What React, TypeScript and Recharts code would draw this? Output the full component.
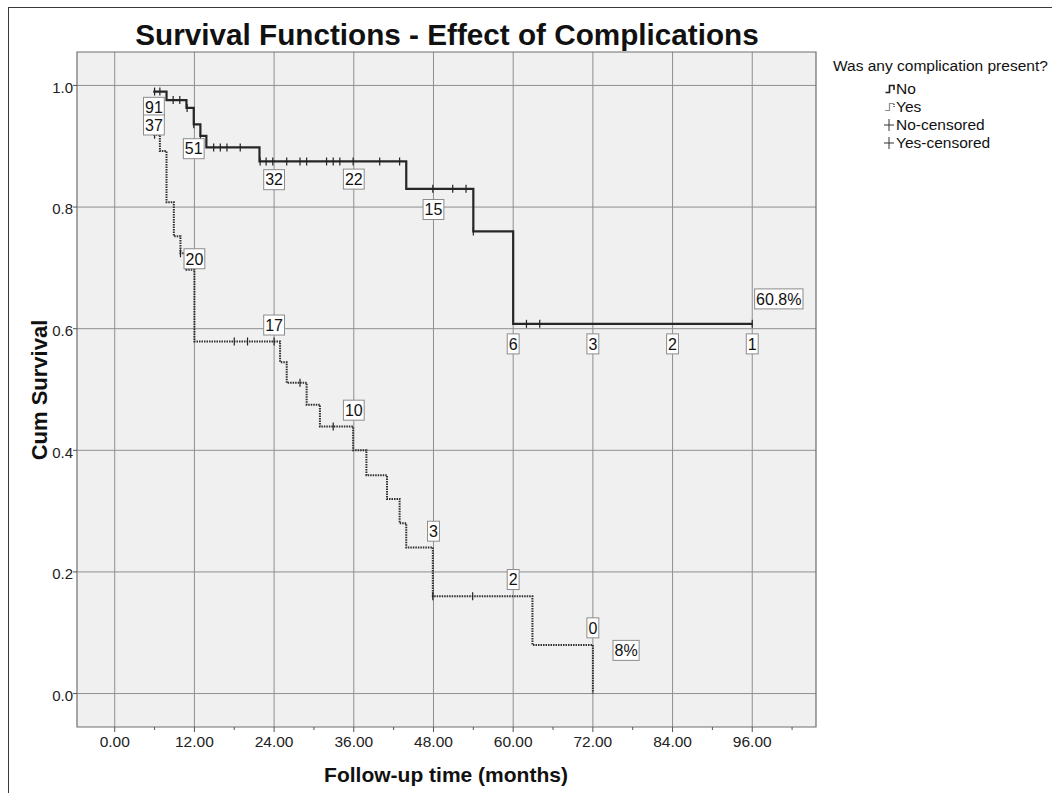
import React from 'react';
import { ComposedChart, Line, Scatter, XAxis, YAxis, CartesianGrid, ReferenceArea } from 'recharts';

// ---------- data ----------
const xTicks = [0, 6, 12, 18, 24, 30, 36, 42, 48, 54, 60, 66, 72, 78, 84, 90, 96, 102];
const yTicks = [0, 0.2, 0.4, 0.6, 0.8, 1.0];

// "No" complication survival curve (step after)
const noTimes = [5.8, 7.8, 10.8, 11.9, 12.9, 13.8, 21.8, 43.9, 54.0, 60.0, 96];
const noSurv = [0.99, 0.976, 0.963, 0.936, 0.917, 0.898, 0.875, 0.83, 0.76, 0.608, 0.608];

// "Yes" complication survival curve (step after)
const yesTimes = [5.8, 6.8, 7.8, 8.9, 9.9, 10.8, 12.0, 24.9, 25.9, 28.9, 30.9, 35.9, 37.9, 41.0, 42.9, 43.9, 47.9, 62.9, 72.0];
const yesSurv = [0.919, 0.892, 0.808, 0.752, 0.724, 0.697, 0.579, 0.545, 0.511, 0.475, 0.439, 0.4, 0.359, 0.32, 0.28, 0.24, 0.16, 0.08, 0.0];

// censored observations
const noCensorT = [6.0, 6.8, 8.8, 9.8, 10.9, 11.9, 12.9, 14.9, 15.9, 16.9, 18.9, 21.9, 22.8, 23.8, 25.9, 27.9, 28.9, 31.9, 32.9, 33.9, 35.9, 39.9, 42.9, 47.9, 50.9, 52.9, 54.0, 62.0, 64.0, 96];
const noCensorS = [0.99, 0.99, 0.976, 0.976, 0.963, 0.936, 0.917, 0.898, 0.898, 0.898, 0.898, 0.875, 0.875, 0.875, 0.875, 0.875, 0.875, 0.875, 0.875, 0.875, 0.875, 0.875, 0.875, 0.83, 0.83, 0.83, 0.76, 0.608, 0.608, 0.608];
const yesCensorT = [6.0, 9.9, 18.0, 20.0, 24.0, 27.9, 32.9, 47.9, 53.9];
const yesCensorS = [0.919, 0.724, 0.579, 0.579, 0.579, 0.511, 0.439, 0.16, 0.16];

// numbers at risk labels
const noRiskT = [5.9, 11.9, 24, 36, 48, 60, 72, 84, 96];
const noRiskY = [0.964, 0.896, 0.845, 0.846, 0.796, 0.575, 0.575, 0.575, 0.575];
const noRiskN = ['91', '51', '32', '22', '15', '6', '3', '2', '1'];
const yesRiskT = [5.9, 12, 24, 36, 48, 60, 72];
const yesRiskY = [0.935, 0.715, 0.606, 0.466, 0.267, 0.1875, 0.108];
const yesRiskN = ['37', '20', '17', '10', '3', '2', '0'];

// final survival percentage labels
const pctT = [100.0, 77.0];
const pctY = [0.649, 0.071];
const pctN = ['60.8%', '8%'];

// ---------- derived tables ----------
const noData = noTimes.map((t, i) => ({ x: t, y: noSurv[i] }));
const yesData = yesTimes.map((t, i) => ({ x: t, y: yesSurv[i] }));
const noCensor = noCensorT.map((t, i) => ({ x: t, y: noCensorS[i] }));
const yesCensor = yesCensorT.map((t, i) => ({ x: t, y: yesCensorS[i] }));
const riskLabels = [
  ...noRiskT.map((t, i) => ({ x: t, y: noRiskY[i], label: noRiskN[i] })),
  ...yesRiskT.map((t, i) => ({ x: t, y: yesRiskY[i], label: yesRiskN[i] })),
];
const pctLabels = pctT.map((t, i) => ({ x: t, y: pctY[i], label: pctN[i] }));

const FONT = "Arial, 'Liberation Sans', Helvetica, sans-serif";
const X_MIN = -5.68;
const X_MAX = 105.6;
const Y_MIN = -0.055;
const Y_MAX = 1.055;

const charW = (c: string) => (c === '.' ? 0.278 : c === '%' ? 0.889 : 0.556);

const LabelBox = (props: any) => {
  const { cx, cy, payload } = props;
  if (cx == null || cy == null) return null;
  const fs = 16;
  const w = payload.label.split('').reduce((s: number, c: string) => s + charW(c), 0) * fs + 3;
  const h = 20;
  return (
    <g>
      <rect x={cx - w / 2} y={cy - h / 2} width={w} height={h} fill="#ffffff" stroke="#8c8c8c" strokeWidth={1} />
      <text x={cx} y={cy + fs * 0.36} textAnchor="middle" fontSize={fs} fontFamily={FONT} fill="#111">
        {payload.label}
      </text>
    </g>
  );
};

const CensorMark = (props: any) => {
  const { cx, cy } = props;
  if (cx == null || cy == null) return null;
  return <line x1={cx} y1={cy - 4} x2={cx} y2={cy + 4} stroke="#222" strokeWidth={1.2} />;
};

const XTick = (props: any) => {
  const { x, y, payload } = props;
  const v = payload.value;
  const major = v % 12 === 0;
  return (
    <g>
      <line x1={x} y1={y} x2={x} y2={y + (major ? 5 : 3)} stroke="#555" strokeWidth={1} />
      {major && (
        <text x={x} y={y + 20} textAnchor="middle" fontSize={15.5} fontFamily={FONT} fill="#222">
          {v.toFixed(2)}
        </text>
      )}
    </g>
  );
};

const StepIcon = ({ dotted }: { dotted?: boolean }) => (
  <svg width={11} height={12} style={{ position: 'absolute', left: -2, top: 2 }}>
    <path d="M0.5 9.5 H4.5 V2.5 H9 V7" fill="none" stroke="#222" strokeWidth={dotted ? 1.2 : 1.6} strokeDasharray={dotted ? '1 1' : undefined} />
  </svg>
);
const PlusIcon = () => (
  <svg width={10} height={14} style={{ position: 'absolute', left: -3, top: 1 }}>
    <line x1={5} y1={1} x2={5} y2={13} stroke="#333" strokeWidth={1} />
    <line x1={0} y1={7} x2={10} y2={7} stroke="#333" strokeWidth={1} />
  </svg>
);

const legendItems = ['No', 'Yes', 'No-censored', 'Yes-censored'];

export default function App() {
  return (
    <div style={{ position: 'absolute', left: 0, top: 0, width: 1052, height: 793, overflow: 'hidden', background: '#fff', fontFamily: FONT }}>
      {/* outer frame */}
      <div style={{ position: 'absolute', left: 8, top: 7, width: 1100, height: 900, border: '1.5px solid #3a3a3a' }} />
      <div style={{ position: 'absolute', left: 0, top: 0 }}>
        <ComposedChart width={1052} height={793} margin={{ top: 52, right: 236, bottom: 36, left: 17 }}>
          <CartesianGrid
            stroke="#8f8f8f"
            strokeWidth={1}
            fill="#f0f0f0"
            fillOpacity={1}
            horizontalValues={yTicks}
            verticalValues={[0, 12, 24, 36, 48, 60, 72, 84, 96]}
          />
          <XAxis
            type="number"
            dataKey="x"
            domain={[X_MIN, X_MAX]}
            allowDataOverflow
            ticks={xTicks}
            interval={0}
            tick={<XTick />}
            tickSize={0}
            tickMargin={0}
            tickLine={false}
            axisLine={false}
            height={30}
          />
          <YAxis
            type="number"
            dataKey="y"
            domain={[Y_MIN, Y_MAX]}
            allowDataOverflow
            ticks={yTicks}
            interval={0}
            tickFormatter={(v: number) => v.toFixed(1)}
            tick={{ fontSize: 15, fontFamily: FONT, fill: '#222', dy: 2 }}
            tickSize={4}
            tickMargin={0}
            tickLine={{ stroke: '#555' }}
            axisLine={false}
            width={60}
          />
          <ReferenceArea x1={X_MIN} x2={X_MAX} y1={Y_MIN} y2={Y_MAX} fill="none" fillOpacity={0} stroke="#6e6e6e" strokeWidth={1.2} ifOverflow="visible" />
          <Line data={noData} dataKey="y" type="stepAfter" stroke="#262626" strokeWidth={2.2} dot={false} isAnimationActive={false} />
          <Line data={yesData} dataKey="y" type="stepAfter" stroke="#2e2e2e" strokeWidth={2} strokeDasharray="1.5 1" dot={false} isAnimationActive={false} />
          <Scatter data={noCensor} dataKey="y" shape={<CensorMark />} isAnimationActive={false} />
          <Scatter data={yesCensor} dataKey="y" shape={<CensorMark />} isAnimationActive={false} />
          <Scatter data={riskLabels} dataKey="y" shape={<LabelBox />} isAnimationActive={false} />
          <Scatter data={pctLabels} dataKey="y" shape={<LabelBox />} isAnimationActive={false} />
        </ComposedChart>
      </div>
      {/* title */}
      <div style={{ position: 'absolute', left: 47, width: 800, top: 20, textAlign: 'center', fontSize: 29.7, fontWeight: 'bold', lineHeight: '30px', color: '#111', whiteSpace: 'nowrap' }}>
        Survival Functions - Effect of Complications
      </div>
      {/* x axis title */}
      <div style={{ position: 'absolute', left: 246, width: 400, top: 764, textAlign: 'center', fontSize: 21, fontWeight: 'bold', lineHeight: '21px', color: '#111', whiteSpace: 'nowrap' }}>
        Follow-up time (months)
      </div>
      {/* y axis title */}
      <div style={{ position: 'absolute', left: 40 - 100, top: 390 - 11, width: 200, textAlign: 'center', fontSize: 22, fontWeight: 'bold', lineHeight: '22px', color: '#111', whiteSpace: 'nowrap', transform: 'rotate(-90deg)', transformOrigin: '100px 11px' }}>
        Cum Survival
      </div>
      {/* legend */}
      <div style={{ position: 'absolute', left: 833, top: 58, fontSize: 15.5, lineHeight: '16px', color: '#111', whiteSpace: 'nowrap' }}>
        Was any complication present?
      </div>
      {legendItems.map((name, i) => (
        <div key={name} style={{ position: 'absolute', left: 887, top: 81 + i * 18, height: 16, fontSize: 15.5, lineHeight: '16px', color: '#111', whiteSpace: 'nowrap', paddingLeft: 9 }}>
          {i === 0 && <StepIcon />}
          {i === 1 && <StepIcon dotted />}
          {i >= 2 && <PlusIcon />}
          {name}
        </div>
      ))}
    </div>
  );
}
